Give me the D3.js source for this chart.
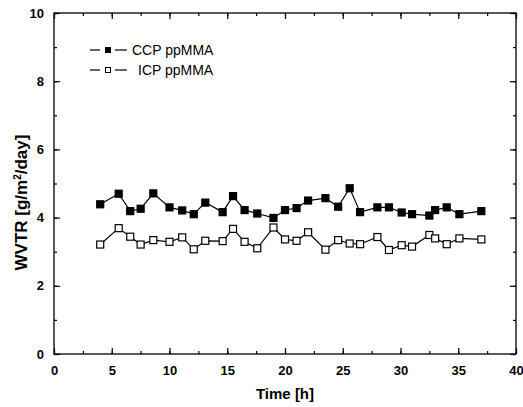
<!DOCTYPE html>
<html>
<head>
<meta charset="utf-8">
<script src="https://cdn.jsdelivr.net/npm/d3@7"></script>
<style>
  body { margin: 0; background: #fff; }
  text { font-family: 'Liberation Sans', Arial, sans-serif; }
</style>
</head>
<body>
<div id="chart"></div>
<script>
// time points [h]
const times = [4.0, 5.6, 6.6, 7.5, 8.6, 10.0, 11.1, 12.1, 13.1, 14.6, 15.5, 16.5, 17.6, 19.0, 20.0,
  21.0, 22.0, 23.5, 24.6, 25.6, 26.5, 28.0, 29.0, 30.1, 31.0, 32.5, 33.0, 34.0, 35.1, 37.0]
const ccpValues = [4.39, 4.70, 4.19, 4.26, 4.71, 4.30, 4.21, 4.10, 4.44, 4.16, 4.63, 4.22, 4.12, 3.99, 4.22,
  4.28, 4.50, 4.57, 4.32, 4.86, 4.16, 4.30, 4.30, 4.15, 4.10, 4.06, 4.22, 4.30, 4.10, 4.19]
const icpValues = [3.21, 3.69, 3.44, 3.21, 3.34, 3.29, 3.42, 3.07, 3.32, 3.31, 3.67, 3.29, 3.10, 3.71, 3.36,
  3.32, 3.57, 3.06, 3.34, 3.24, 3.22, 3.43, 3.05, 3.19, 3.15, 3.49, 3.39, 3.22, 3.39, 3.36]
const seriesNames = ['CCP ppMMA', 'ICP ppMMA']
const xTicks = [0, 5, 10, 15, 20, 25, 30, 35, 40]
const yTicks = [0, 2, 4, 6, 8, 10]

const margin = { top: 13, right: 7, bottom: 53, left: 54 }
const width = 523 - margin.left - margin.right
const height = 407 - margin.top - margin.bottom

const svg = d3
  .select('#chart')
  .append('svg')
  .attr('width', 523)
  .attr('height', 407)
  .append('g')
  .attr('transform', 'translate(' + margin.left + ',' + margin.top + ')')

const x = d3.scaleLinear().domain([0, 40]).range([0, width])
const y = d3.scaleLinear().domain([0, 10]).range([height, 0])

// frame
svg.append('rect')
  .attr('width', width)
  .attr('height', height)
  .attr('fill', 'none')
  .attr('stroke', '#000')
  .attr('stroke-width', 1.3)

// ticks pointing inward on all sides
const xMinor = d3.range(0, 40.1, 2.5)
const yMinor = d3.range(0, 10.1, 1)

function styleAxis(g) {
  g.select('.domain').remove()
  g.selectAll('line').attr('stroke', '#000').attr('stroke-width', 1.2)
  g.selectAll('text')
    .attr('font-size', 13)
    .attr('font-weight', 'bold')
    .attr('fill', '#000')
}

svg.append('g')
  .attr('transform', 'translate(0,' + height + ')')
  .call(d3.axisBottom(x).tickValues(xMinor).tickSize(-3).tickFormat(''))
  .call(styleAxis)
svg.append('g')
  .attr('transform', 'translate(0,' + height + ')')
  .call(d3.axisBottom(x).tickValues(xTicks).tickSize(-6).tickPadding(12).tickFormat(d3.format('d')))
  .call(styleAxis)
svg.append('g')
  .call(d3.axisTop(x).tickValues(xMinor).tickSize(-3).tickFormat(''))
  .call(styleAxis)
svg.append('g')
  .call(d3.axisTop(x).tickValues(xTicks).tickSize(-6).tickFormat(''))
  .call(styleAxis)

svg.append('g')
  .call(d3.axisLeft(y).tickValues(yMinor).tickSize(-3).tickFormat(''))
  .call(styleAxis)
svg.append('g')
  .call(d3.axisLeft(y).tickValues(yTicks).tickSize(-6).tickPadding(10).tickFormat(d3.format('d')))
  .call(styleAxis)
svg.append('g')
  .attr('transform', 'translate(' + width + ',0)')
  .call(d3.axisRight(y).tickValues(yMinor).tickSize(-3).tickFormat(''))
  .call(styleAxis)
svg.append('g')
  .attr('transform', 'translate(' + width + ',0)')
  .call(d3.axisRight(y).tickValues(yTicks).tickSize(-6).tickFormat(''))
  .call(styleAxis)

// axis titles
svg.append('text')
  .attr('x', width / 2)
  .attr('y', height + 45)
  .attr('text-anchor', 'middle')
  .attr('font-size', 15)
  .attr('font-weight', 'bold')
  .text('Time [h]')

const yTitle = svg.append('text')
  .attr('transform', 'translate(-27,' + (height / 2 + 19) + ') rotate(-90)')
  .attr('text-anchor', 'middle')
  .attr('font-size', 17)
  .attr('font-weight', 'bold')
yTitle.append('tspan').text('WVTR [g/m')
yTitle.append('tspan').attr('dy', -6).attr('font-size', 10).text('2')
yTitle.append('tspan').attr('dy', 6).text('/day]')

// series
const series = [
  { name: seriesNames[0], values: ccpValues, fill: '#000' },
  { name: seriesNames[1], values: icpValues, fill: '#fff' }
]

const line = d3.line()
  .x((d, i) => x(times[i]))
  .y(d => y(d))

const ms = 7

series.forEach(s => {
  svg.append('path')
    .datum(s.values)
    .attr('d', line)
    .attr('fill', 'none')
    .attr('stroke', '#000')
    .attr('stroke-width', 1.2)

  svg.selectAll(null)
    .data(s.values)
    .enter()
    .append('rect')
    .attr('x', (d, i) => x(times[i]) - ms / 2)
    .attr('y', d => y(d) - ms / 2)
    .attr('width', ms)
    .attr('height', ms)
    .attr('fill', s.fill)
    .attr('stroke', '#000')
    .attr('stroke-width', 1.2)
})

// legend
const legend = svg.append('g').attr('transform', 'translate(36,37)')
series.forEach((s, i) => {
  const g = legend.append('g').attr('transform', 'translate(0,' + i * 20 + ')')
  g.append('line')
    .attr('x1', 0).attr('x2', 10)
    .attr('stroke', '#000').attr('stroke-width', 1.2)
  g.append('line')
    .attr('x1', 25).attr('x2', 37)
    .attr('stroke', '#000').attr('stroke-width', 1.2)
  g.append('rect')
    .attr('x', 15.5).attr('y', -2.5)
    .attr('width', 5).attr('height', 5)
    .attr('fill', s.fill)
    .attr('stroke', '#000')
  g.append('text')
    .attr('x', i === 0 ? 42 : 48)
    .attr('y', 5)
    .attr('font-size', 14)
    .text(s.name)
})
</script>
</body>
</html>
